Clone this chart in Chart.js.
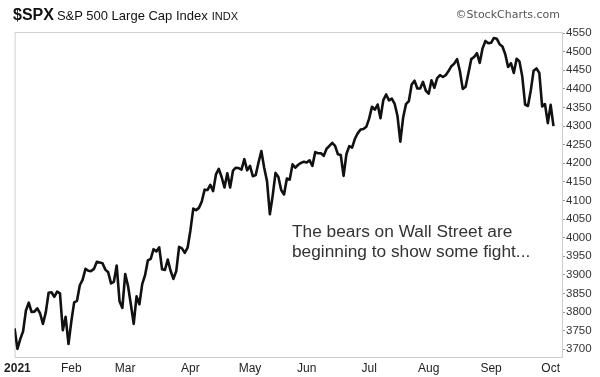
<!DOCTYPE html>
<html>
<head>
<meta charset="utf-8">
<script src="https://cdn.jsdelivr.net/npm/chart.js@4/dist/chart.umd.min.js"></script>
<style>
  html, body { margin: 0; padding: 0; background: #fff; }
  #wrap { position: relative; width: 600px; height: 377px; overflow: hidden; font-family: "Liberation Sans", Arial, sans-serif; }
  #c { position: absolute; left: 0; top: 0; }
  .head { position: absolute; left: 13px; top: 7px; line-height: 16px; white-space: nowrap; color: #111; }
  .head .sym { font-weight: bold; font-size: 16px; }
  .head .name { font-size: 13px; margin-left: 3px; }
  .head .ex { font-size: 11px; margin-left: 4px; }
  .copy { position: absolute; right: 40px; top: 8px; font-family: "DejaVu Sans", sans-serif; font-size: 11px; line-height: 14px; color: #555; }
  .note { position: absolute; left: 292px; top: 221px; font-size: 17.3px; line-height: 20px; color: #333; white-space: nowrap; }
</style>
</head>
<body>
<div id="wrap">
  <canvas id="c" width="600" height="377"></canvas>
  <div class="head"><span class="sym">$SPX</span><span class="name">S&amp;P 500 Large Cap Index</span><span class="ex">INDX</span></div>
  <div class="copy">©StockCharts.com</div>
  <div class="note">The bears on Wall Street are<br>beginning to show some fight...</div>
</div>
<script>
// daily closes, Dec 31 2020 through Oct 4 2021
const closes = [
  3756,
  // Jan
  3701, 3727, 3748, 3804, 3825, 3800, 3801, 3810, 3796, 3768, 3799, 3852, 3853, 3841, 3855, 3850, 3751, 3787, 3714,
  // Feb
  3774, 3826, 3830, 3872, 3887, 3916, 3911, 3910, 3916, 3935, 3933, 3931, 3914, 3907, 3877, 3881, 3925, 3829, 3811,
  // Mar
  3902, 3870, 3820, 3768, 3842, 3821, 3875, 3899, 3939, 3943, 3969, 3963, 3974, 3915, 3913, 3941, 3911, 3889, 3910, 3975, 3971, 3959, 3973,
  // Apr
  4020, 4078, 4074, 4080, 4097, 4129, 4128, 4142, 4125, 4170, 4185, 4163, 4135, 4173, 4135, 4180, 4188, 4187, 4183, 4211, 4181,
  // May
  4193, 4165, 4168, 4202, 4233, 4188, 4152, 4063, 4113, 4174, 4163, 4128, 4116, 4159, 4156, 4197, 4188, 4196, 4201, 4204,
  // Jun
  4202, 4208, 4193, 4230, 4227, 4227, 4220, 4239, 4247, 4255, 4247, 4224, 4222, 4166, 4225, 4246, 4242, 4266, 4281, 4291, 4292, 4298,
  // Jul
  4320, 4352, 4344, 4358, 4321, 4370, 4385, 4369, 4374, 4360, 4327, 4258, 4323, 4359, 4367, 4412, 4422, 4401, 4401, 4419, 4395,
  // Aug
  4387, 4423, 4403, 4429, 4437, 4432, 4437, 4448, 4461, 4468, 4480, 4448, 4400, 4406, 4442, 4480, 4486, 4496, 4470, 4509, 4529, 4523,
  // Sep
  4524, 4537, 4535, 4520, 4514, 4493, 4459, 4469, 4443, 4481, 4474, 4433, 4358, 4354, 4396, 4449, 4455, 4443, 4353, 4359, 4308,
  // Oct
  4357, 4300
];

const monthLabels = ['2021', 'Feb', 'Mar', 'Apr', 'May', 'Jun', 'Jul', 'Aug', 'Sep', 'Oct'];
const monthStarts = [1, 20, 39, 62, 83, 103, 125, 146, 168, 189];
const yTicks = [3700, 3750, 3800, 3850, 3900, 3950, 4000, 4050, 4100, 4150, 4200, 4250, 4300, 4350, 4400, 4450, 4500, 4550];

const frame = {
  id: 'frame',
  beforeDatasetsDraw(chart) {
    const a = chart.chartArea, c = chart.ctx;
    c.save();
    c.strokeStyle = '#cfcfcf';
    c.lineWidth = 1;
    c.strokeRect(a.left + 0.5, a.top + 0.5, a.right - a.left, a.bottom - a.top);
    c.restore();
  }
};

new Chart(document.getElementById('c'), {
  type: 'line',
  data: {
    datasets: [{
      data: closes.map((v, i) => ({ x: i, y: v })),
      borderColor: '#111',
      borderWidth: 2.6,
      borderJoinStyle: 'round',
      pointRadius: 0,
      tension: 0,
      fill: false
    }]
  },
  options: {
    responsive: false,
    animation: false,
    devicePixelRatio: 1,
    layout: { padding: { top: 32, left: 14, right: 0, bottom: 0 } },
    plugins: { legend: { display: false }, tooltip: { enabled: false } },
    scales: {
      x: {
        type: 'linear',
        min: 0,
        max: 193,
        grid: { display: false, drawTicks: false },
        border: { display: false },
        afterBuildTicks: (s) => { s.ticks = monthStarts.map(v => ({ value: v })); },
        afterFit: (s) => { s.height = 20; },
        ticks: {
          autoSkip: false,
          maxRotation: 0,
          padding: 4,
          color: '#222',
          font: (ctx) => ctx.index === 0
            ? { family: 'Liberation Sans', size: 12, weight: 'bold' }
            : { family: 'Liberation Sans', size: 12 },
          callback: (v) => monthLabels[monthStarts.indexOf(v)]
        }
      },
      y: {
        position: 'right',
        min: 3679,
        max: 4553,
        afterBuildTicks: (s) => { s.ticks = yTicks.map(v => ({ value: v })); },
        afterFit: (s) => { s.width = 38; },
        grid: { drawOnChartArea: false, tickLength: 3, color: '#999' },
        border: { display: false },
        ticks: {
          padding: 1,
          color: '#333',
          font: { family: 'Liberation Sans', size: 11.5 },
          callback: (v) => String(v)
        }
      }
    }
  },
  plugins: [frame]
});
</script>
</body>
</html>
